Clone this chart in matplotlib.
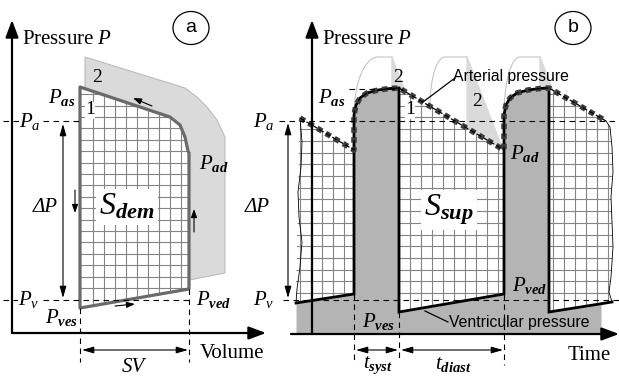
import numpy as np
import matplotlib.pyplot as plt
from matplotlib.patches import Polygon, Ellipse

plt.rcParams.update({
    "font.family": "Liberation Serif",
    "mathtext.fontset": "custom",
    "mathtext.rm": "Liberation Serif",
    "mathtext.it": "Liberation Serif:italic",
    "mathtext.bf": "Liberation Serif:bold",
    "mathtext.bfit": "Liberation Serif:italic:bold",
})

# ---- panel a: pressure-volume loop (schematic units) ----
P_AS, P_A, P_V = 290, 256, 77
V_ES, V_ED = 80, 189
loop_v = [80, 170, 180, 185, 188, 189, 189, 80]
loop_p = [290, 260, 252, 240, 226, 224, 88, 69]
band_v = [85, 185, 197, 207, 217, 225, 225, 189, 189, 185, 180, 170, 85]
band_p = [320, 289, 280, 270, 257, 240, 104, 97, 224, 240, 252, 260, 288]

# ---- panel b: pressure over time (schematic units) ----
art_t = [300, 354, 354, 356, 360, 367, 378, 390, 399,
         504, 504, 506, 510, 517, 528, 540, 549, 606]
art_p = [259, 227, 262, 272, 279, 284, 287, 288.5, 289,
         227, 262, 272, 279, 284, 287, 288.5, 289, 256]
vent_t = [296, 354, 354, 356, 360, 367, 378, 390, 399, 399,
          504, 504, 506, 510, 517, 528, 540, 549, 549, 612]
vent_p = [74, 83, 262, 272, 279, 284, 287, 288.5, 289, 65,
          83, 262, 272, 279, 284, 287, 288.5, 289, 65, 75]
sys_on = [354, 504]
sys_off = [399, 549]
P_AS_B, P_AD_B = 289, 227
left_edge_t = [300, 302, 301, 298, 299, 302, 300, 297, 296]
left_edge_p = [259, 235, 210, 185, 160, 135, 110, 88, 74]
right_edge_t = [606, 610, 612, 613, 611, 612, 613, 611, 609, 612]
right_edge_p = [256, 250, 230, 205, 180, 155, 130, 100, 85, 75]
wedges = [
    ([392, 392, 399, 405], [320, 288.6, 289, 285.4]),
    ([467, 467, 503], [320, 248.5, 227.5]),
    ([540, 540, 549, 553], [320, 288.5, 289, 286.6]),
]
arcs = [(354, 262, 378, 392), (430, 271, 445, 467), (504, 262, 520, 540)]
ARC_TOP = 320

GRID = "#858585"
DARK = "#b4b4b4"
LIGHT = "#dadada"

fig = plt.figure(figsize=(6.19, 3.77), dpi=100)
ax = fig.add_axes([0, 0, 1, 1])
ax.set_xlim(0, 619)
ax.set_ylim(0, 377)
ax.axis("off")


def arrow(x0, y0, x1, y1, style="-|>,head_length=0.8,head_width=0.3",
          lw=1.6, scale=13):
    ax.annotate("", xy=(x1, y1), xytext=(x0, y0), zorder=8,
                arrowprops=dict(arrowstyle=style, lw=lw, color="k",
                                shrinkA=0, shrinkB=0, mutation_scale=scale))


def small_arrow(x0, y0, x1, y1):
    arrow(x0, y0, x1, y1, "-|>,head_length=0.5,head_width=0.18", 0.8, 10)


def double_arrow(x0, y0, x1, y1):
    arrow(x0, y0, x1, y1, "<|-|>,head_length=0.7,head_width=0.2", 0.8, 10)


def label(x, y, s, size=15, **kw):
    kw.setdefault("ha", "center")
    ax.text(x, y, s, fontsize=size, va="center", zorder=9, **kw)


def dashed(xs, ys, lw=0.8):
    ax.plot(xs, ys, color="k", lw=lw, ls=(0, (5, 4)), zorder=6)


def draw_grid(xs, ys, clip_xy):
    clip = Polygon(clip_xy, closed=True, transform=ax.transData)
    v = ax.vlines(xs, 0, 377, color=GRID, lw=0.8, zorder=2)
    h = ax.hlines(ys, 0, 619, color=GRID, lw=0.8, zorder=2)
    v.set_clip_path(clip)
    h.set_clip_path(clip)


# ================= panel a =================
ax.add_patch(Polygon(list(zip(band_v, band_p)), closed=True, fc=LIGHT,
                     ec="#bcbcbc", lw=0.8, zorder=1))
ax.fill(loop_v, loop_p, color="white", zorder=1.5)
draw_grid(np.arange(93, 186, 11), np.arange(89, 300, 11.4),
          list(zip(loop_v, loop_p)))
ax.add_patch(Polygon(list(zip(loop_v, loop_p)), closed=True, fill=False,
                     ec="#6a6a6a", lw=2.3, joinstyle="round", zorder=4))

arrow(12, 44, 12, 357)
arrow(12, 44, 266, 44)
label(22, 337, "Pressure $P$", ha="left")
ax.add_patch(Ellipse((191, 349), 36, 33, fill=False, lw=0.9, zorder=8))
label(191, 350, "a", 14, family="Liberation Sans")

dashed([3, V_ES], [P_A, P_A])
dashed([3, V_ED], [P_V, P_V])
dashed([V_ES, V_ES], [69, 15])
dashed([V_ED, V_ED], [88, 15])
label(30, P_A, "$P_a$", bbox=dict(fc="white", ec="none", pad=0.5))
label(29, P_V, "$P_v$", bbox=dict(fc="white", ec="none", pad=0.5))
label(62, 280, r"$P_{\mathbfit{as}}$")
label(97, 300, "2", 14)
label(90, 267, "1", 14, bbox=dict(fc="white", ec="none", pad=0))
label(214, 213, r"$P_{\mathbfit{ad}}$")
label(62, 60, r"$P_{\mathbfit{ves}}$")
label(214, 77, r"$P_{\mathbfit{ved}}$")
label(45, 169, "ΔP", style="italic")
double_arrow(63, 253, 63, 79)
small_arrow(75, 187, 75, 164)
small_arrow(194, 145, 194, 168)
small_arrow(152, 271, 133, 279)
small_arrow(115, 71, 135, 73)
label(127, 170, r"$S_{\mathbfit{dem}}$", 23,
      bbox=dict(fc="white", ec="none", pad=2))
double_arrow(82, 27, 188, 27)
label(133, 9, "SV", style="italic")
label(200, 23, "Volume", ha="left")

# ================= panel b =================
for wt, wp in wedges:
    ax.fill(wt, wp, color=LIGHT, zorder=1)
ang = np.linspace(0, np.pi / 2, 30)
for t0, p0, t1, t2 in arcs:
    at = np.r_[t1 - (t1 - t0) * np.cos(ang), t2]
    ap = np.r_[p0 + (ARC_TOP - p0) * np.sin(ang), ARC_TOP]
    ax.plot(at, ap, color="#c4c4c4", lw=0.8, zorder=1)

clip_t = art_t + right_edge_t + vent_t[::-1] + left_edge_t
clip_p = art_p + right_edge_p + vent_p[::-1] + left_edge_p
draw_grid(np.arange(300, 615, 11), np.arange(84, 300, 11.7),
          list(zip(clip_t, clip_p)))

fill_end = 601
fill_t = vent_t[:-1] + [fill_end]
fill_p = vent_p[:-1] + [np.interp(fill_end, vent_t[-2:], vent_p[-2:])]
ax.fill_between(fill_t, fill_p, 43, color=DARK, lw=0, zorder=3)
ax.plot(vent_t, vent_p, color="k", lw=2, solid_joinstyle="miter", zorder=4)
ax.plot(left_edge_t, left_edge_p, color="k", lw=0.6, zorder=4)
ax.plot(right_edge_t, right_edge_p, color="k", lw=0.6, zorder=4)

ax.plot(art_t, art_p, color="#3c3c3c", lw=4, ls=(0, (1, 0.8)),
        dash_capstyle="butt", zorder=5)
ax.plot(art_t, art_p, color="k", lw=0.9, ls=(0, (4, 2)), zorder=5.5)

arrow(312, 43, 312, 357)
arrow(291, 43, 619, 43)
label(322, 337, "Pressure $P$", ha="left")
ax.add_patch(Ellipse((573, 349), 36, 33, fill=False, lw=0.9, zorder=8))
label(573, 350, "b", 14, family="Liberation Sans")

dashed([279, 619], [P_A, P_A])
dashed([283, 619], [P_V, P_V])
dashed([349, sys_off[0]], [P_AS_B - 1, P_AS_B - 1])
dashed([sys_on[0], sys_on[0]], [83, 15])
dashed([sys_off[0], sys_off[0]], [65, 15])
dashed([sys_on[1], sys_on[1]], [83, 12])
label(264, P_A, "$P_a$")
label(264, P_V, "$P_v$")
label(332, 280, r"$P_{\mathbfit{as}}$")
label(398, 300, "2", 14)
label(477, 276, "2", 14)
label(410, 267, "1", 14, bbox=dict(fc="white", ec="none", pad=0))
label(525, 224, r"$P_{\mathbfit{ad}}$")
label(530, 91, r"$P_{\mathbfit{ved}}$")
label(379, 56, r"$P_{\mathbfit{ves}}$")
label(257, 169, "ΔP", style="italic")
double_arrow(288, 254, 288, 79)
label(449, 167, r"$S_{\mathbfit{sup}}$", 23,
      bbox=dict(fc="white", ec="none", pad=2))

label(453, 301, "Arterial pressure", 11.3, ha="left", family="Liberation Sans")
ax.plot([455, 423], [299, 275], color="k", lw=0.9, zorder=8)
label(449, 54, "Ventricular pressure", 11.3, ha="left",
      family="Liberation Sans")
ax.plot([448, 425], [55, 66], color="k", lw=0.9, zorder=8)

double_arrow(356, 27, 398, 27)
double_arrow(401, 27, 503, 27)
label(378, 12, r"$t_{\mathbfit{syst}}$")
label(453, 12, r"$t_{\mathbfit{diast}}$")
label(568, 22, "Time", ha="left")

fig.savefig("out.png", dpi=100)
